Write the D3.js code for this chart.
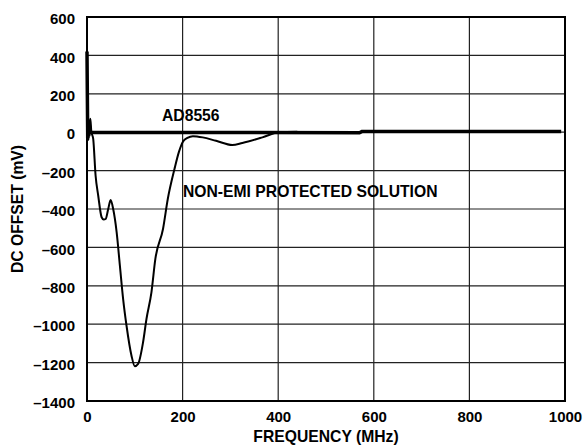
<!DOCTYPE html>
<html>
<head>
<meta charset="utf-8">
<script src="https://cdn.jsdelivr.net/npm/d3@7"></script>
<style>
	body { margin: 0; background: #fff; }
	text { font-family: "Liberation Sans", Arial, sans-serif; font-weight: bold; fill: #000; }
</style>
</head>
<body>
<div id="chart"></div>
<script>
// tick values
var xTicks = [0, 200, 400, 600, 800, 1000]
var yTicks = [600, 400, 200, 0, -200, -400, -600, -800, -1000, -1200, -1400]

// AD8556 trace (MHz, mV)
var adFreq = [0, 0.7, 1.5, 2.5, 3.5, 5, 8, 570, 575, 992]
var adMv = [420, 200, -30, 40, -20, 10, 0, -3, 3, 3]

// non-EMI protected solution trace (MHz, mV)
var neFreq = [0, 1, 2, 3, 5, 7, 9, 13, 18, 23.5, 30.6, 35, 39, 44.4, 49.4, 54.8, 62, 68.8, 75.6, 82.7, 93.1, 100, 106.9, 117.3, 124.4, 134.8, 143, 159, 169, 183, 192, 201, 210, 221.5, 242, 270, 304, 325, 367, 402, 440]
var neMv = [150, -20, 60, -40, 40, 70, 5, -35, -227, -331, -443, -455, -452, -400, -353, -400, -520, -695, -869, -1008, -1164, -1219, -1207, -1094, -973, -834, -660, -504, -348, -192, -105, -48, -30, -21, -27, -45, -67, -56, -27, 0, 2]

var width = 584
var height = 445
var margin = { left: 87, right: 19, top: 17, bottom: 44 }
var fontSize = "15px"
var titleSize = "15.7px"

var svg = d3.select("#chart")
	.append("svg")
	.attr("width", width)
	.attr("height", height)

var x = d3.scaleLinear()
	.domain([0, 1000])
	.range([margin.left, width - margin.right])

var y = d3.scaleLinear()
	.domain([-1400, 600])
	.range([height - margin.bottom, margin.top])

// grid
svg.append("g")
	.selectAll("line")
	.data(xTicks.slice(1, -1))
	.enter().append("line")
	.attr("x1", function (d) { return x(d) })
	.attr("x2", function (d) { return x(d) })
	.attr("y1", y(600))
	.attr("y2", y(-1400))
	.attr("stroke", "#222")
	.attr("stroke-width", 1.2)

svg.append("g")
	.selectAll("line")
	.data(yTicks.slice(1, -1))
	.enter().append("line")
	.attr("x1", x(0))
	.attr("x2", x(1000))
	.attr("y1", function (d) { return y(d) })
	.attr("y2", function (d) { return y(d) })
	.attr("stroke", "#222")
	.attr("stroke-width", 1.2)

// frame
svg.append("rect")
	.attr("x", x(0))
	.attr("y", y(600))
	.attr("width", x(1000) - x(0))
	.attr("height", y(-1400) - y(600))
	.attr("fill", "none")
	.attr("stroke", "#000")
	.attr("stroke-width", 2)

// axes (labels only)
var fmt = function (d) { return d < 0 ? "\u2013" + Math.abs(d) : "" + d }

var yAxis = svg.append("g")
	.attr("transform", "translate(" + (margin.left - 12) + ",0)")
	.call(d3.axisLeft(y).tickValues(yTicks).tickFormat(fmt).tickSize(0))
yAxis.select(".domain").remove()
yAxis.selectAll("text").style("font-size", fontSize).attr("x", 0).attr("dy", "0.45em")

var xAxis = svg.append("g")
	.attr("transform", "translate(0,422)")
	.call(d3.axisBottom(x).tickValues(xTicks).tickFormat(fmt).tickSize(0))
xAxis.select(".domain").remove()
xAxis.selectAll("text").style("font-size", fontSize).attr("y", 0).attr("dy", 0)

// traces
var line = d3.line()
	.x(function (d) { return x(d[0]) })
	.y(function (d) { return y(d[1]) })
	.curve(d3.curveMonotoneX)

var nePts = neFreq.map(function (f, i) { return [f, neMv[i]] })
var adPts = adFreq.map(function (f, i) { return [f, adMv[i]] })

svg.append("path")
	.datum(nePts)
	.attr("fill", "none")
	.attr("stroke", "#000")
	.attr("stroke-width", 2)
	.attr("d", line)

svg.append("path")
	.datum(adPts)
	.attr("fill", "none")
	.attr("stroke", "#000")
	.attr("stroke-width", 3.5)
	.attr("d", d3.line().x(function (d) { return x(d[0]) }).y(function (d) { return y(d[1]) }))

// labels
svg.append("text")
	.attr("x", 162)
	.attr("y", 121)
	.style("font-size", titleSize)
	.text("AD8556")

svg.append("text")
	.attr("x", 183)
	.attr("y", 197)
	.style("font-size", titleSize)
	.text("NON-EMI PROTECTED SOLUTION")

svg.append("text")
	.attr("x", (x(0) + x(1000)) / 2)
	.attr("y", 442)
	.attr("text-anchor", "middle")
	.style("font-size", titleSize)
	.text("FREQUENCY (MHz)")

svg.append("text")
	.attr("transform", "translate(23," + (y(600) + y(-1400)) / 2 + ") rotate(-90)")
	.attr("text-anchor", "middle")
	.style("font-size", titleSize)
	.text("DC OFFSET (mV)")
</script>
</body>
</html>
